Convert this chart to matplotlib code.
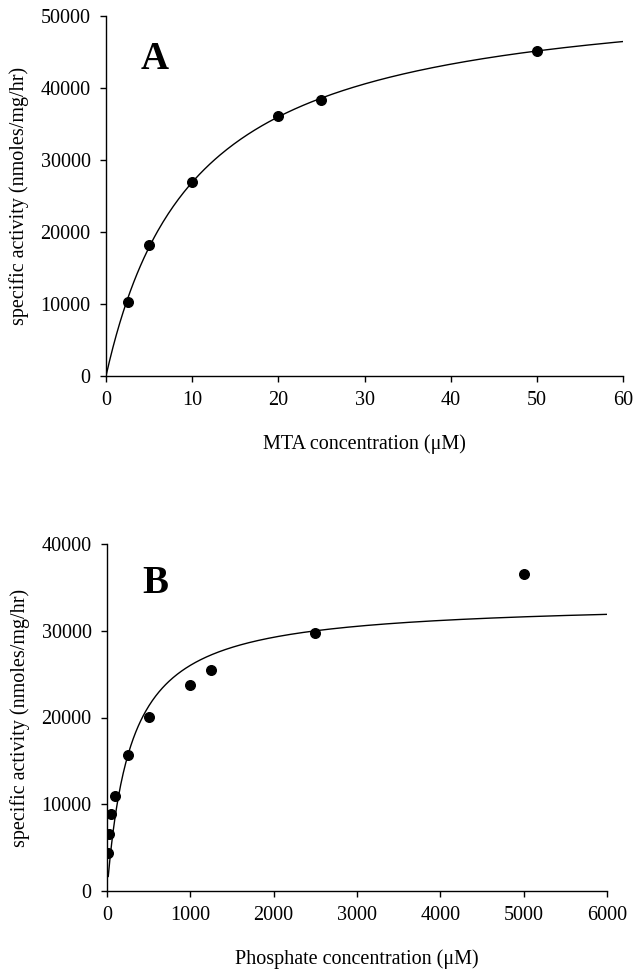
import numpy as np
import matplotlib
matplotlib.use('Agg')
import matplotlib.pyplot as plt

plt.rcParams['font.family'] = ['Liberation Serif', 'DejaVu Serif']

# ---- Panel A : MTA ----
mta_conc = [2.5, 5, 10, 20, 25, 50]
mta_act = [10300, 18250, 26900, 36050, 38300, 45100]
mta_vmax, mta_km = 54350, 10.2   # Michaelis-Menten fit

# ---- Panel B : phosphate ----
pi_conc = [10, 25, 50, 100, 250, 500, 1000, 1250, 2500, 5000]
pi_act = [4400, 6550, 8850, 10900, 15650, 20100, 23700, 25500, 29700, 36500]
pi_vmax, pi_km = 33400, 284      # Michaelis-Menten fit

W, H = 643, 973
fig = plt.figure(figsize=(W / 100, H / 100), dpi=100)

def px_axes(left, right, top, bottom):
    return fig.add_axes([left / W, 1 - bottom / H, (right - left) / W, (bottom - top) / H])

def style(ax):
    for s in ['top', 'right']:
        ax.spines[s].set_visible(False)
    for s in ['left', 'bottom']:
        ax.spines[s].set_linewidth(1.0)
    ax.tick_params(direction='out', length=4, width=1.0, labelsize=14.5, pad=7)

# Panel A
axA = px_axes(106, 623, 16, 376)
x = np.linspace(0, 60, 300)
axA.plot(x, mta_vmax * x / (mta_km + x), color='black', lw=1.0)
axA.scatter(mta_conc, mta_act, s=48, color='black', zorder=3)
axA.set_xlim(0, 60)
axA.set_ylim(0, 50000)
axA.set_xticks(np.arange(0, 61, 10))
axA.set_yticks(np.arange(0, 50001, 10000))
axA.set_xlabel('MTA concentration (μM)', fontsize=14.5, labelpad=17)
axA.set_ylabel('specific activity (nmoles/mg/hr)', fontsize=14.5, labelpad=8)
axA.text(5.7, 44000, 'A', fontsize=28, fontweight='bold', ha='center', va='center')
style(axA)

# Panel B
axB = px_axes(107, 607, 544, 891)
x = np.linspace(15, 6000, 600)
axB.plot(x, pi_vmax * x / (pi_km + x), color='black', lw=1.0)
axB.scatter(pi_conc, pi_act, s=48, color='black', zorder=3)
axB.set_xlim(0, 6000)
axB.set_ylim(0, 40000)
axB.set_xticks(np.arange(0, 6001, 1000))
axB.set_yticks(np.arange(0, 40001, 10000))
axB.set_xlabel('Phosphate concentration (μM)', fontsize=14.5, labelpad=17)
axB.set_ylabel('specific activity (nmoles/mg/hr)', fontsize=14.5, labelpad=8)
axB.text(580, 35500, 'B', fontsize=28, fontweight='bold', ha='center', va='center')
style(axB)

fig.savefig('out.png', dpi=100)
